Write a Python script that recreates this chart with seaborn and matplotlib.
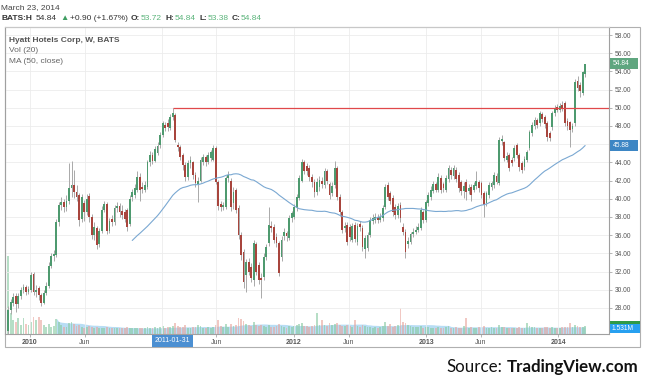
import numpy as np
import pandas as pd
import matplotlib
matplotlib.use("Agg")
import matplotlib.pyplot as plt
import matplotlib.transforms as mtransforms
from matplotlib.patches import Rectangle
import seaborn as sns

# ---------------- data (weekly bars, Hyatt Hotels Corp, BATS) ----------------
last_bar = "2014-03-17"

open_ = [
    25.5, 27.8, 28.6, 29.3, 28.4, 29.3, 30.0, 30.3, 29.8, 30.0,
    31.7, 29.8, 30.2, 29.4, 28.6, 29.7, 30.4, 32.6, 33.7, 33.8,
    37.4, 39.3, 39.7, 39.1, 39.8, 41.2, 41.5, 40.8, 40.4, 37.8,
    39.5, 38.6, 40.3, 38.0, 36.0, 36.8, 35.0, 36.5, 38.8, 39.4,
    36.5, 37.8, 37.4, 39.0, 39.2,
    38.7, 38.6, 38.8, 37.2, 40.2, 40.4, 41.0, 42.4, 41.3, 41.0,
    41.3, 44.0, 44.8, 44.2, 45.0, 45.9, 47.0, 48.1, 48.3, 47.8,
    49.0, 49.2, 45.9, 45.7, 44.8, 43.7, 42.4, 43.9, 44.0, 42.6,
    41.6, 42.0, 44.0, 44.6, 44.0, 44.5, 44.3, 45.6, 41.9, 39.4,
    39.1, 39.1, 42.3, 42.0, 39.5, 41.0, 39.0, 36.0, 34.2,
    31.6, 33.0, 32.5, 31.1, 35.0, 32.7, 31.3, 31.4, 33.6, 35.1,
    37.0, 36.9, 35.8, 35.1, 33.6, 35.9, 36.2, 35.7, 37.9, 38.0,
    39.0, 40.1, 42.0, 44.0, 43.6, 43.4, 42.4, 41.9, 40.7, 41.3,
    42.0, 41.5, 43.0, 41.6, 40.6, 41.5, 43.4, 40.2, 38.5, 36.8,
    37.1, 36.9, 35.5, 37.1, 35.2, 37.2, 36.8,
    34.5, 34.6, 36.0, 37.6, 37.7, 38.0, 37.7, 37.9, 39.1, 41.5,
    40.6, 40.1, 39.1, 38.2, 39.3, 36.9, 36.4, 35.0, 35.3, 36.1,
    36.4, 36.6, 36.8, 38.5, 37.7, 39.5, 40.2, 40.9, 41.6, 41.0,
    42.3, 41.6, 41.0, 42.2, 43.2, 42.5, 43.2, 42.6, 41.8, 40.9,
    41.9, 40.9, 41.3, 41.0, 41.4, 41.8, 41.7, 40.6, 39.5, 40.4,
    41.3, 41.5, 42.5, 41.7, 46.3, 46.2, 44.3, 44.8, 44.3, 44.5,
    45.9, 44.8, 43.9, 43.5, 44.3, 45.6, 47.2, 48.0, 48.7, 48.3,
    49.3, 49.0, 48.3, 47.2, 47.9, 49.4, 50.1, 49.8, 50.3, 50.5,
    48.6, 48.4, 47.7, 48.3, 53.0, 52.5, 51.6, 53.72,
]

close = [
    27.8, 28.7, 29.2, 28.4, 29.3, 30.0, 30.3, 29.8, 30.1, 31.6,
    29.8, 30.0, 29.4, 28.6, 29.7, 30.4, 32.6, 33.7, 33.9, 37.4,
    39.3, 39.7, 39.1, 39.8, 41.2, 41.5, 40.7, 40.2, 37.7, 40.2,
    38.6, 40.0, 38.0, 36.0, 36.9, 34.9, 36.5, 38.8, 39.4, 36.5,
    37.6, 37.4, 39.0, 39.2, 38.5,
    38.2, 37.8, 36.9, 40.0, 40.7, 41.2, 42.4, 41.0, 41.1, 41.5,
    44.0, 44.8, 44.1, 45.5, 45.8, 47.0, 48.3, 47.8, 47.9, 49.0,
    49.4, 46.5, 45.7, 44.6, 43.7, 42.4, 43.9, 44.3, 42.6, 41.7,
    42.0, 44.3, 44.6, 44.0, 44.8, 45.1, 45.6, 41.9, 39.2, 39.1,
    39.3, 42.3, 42.6, 39.1, 40.8, 38.8, 36.0, 33.8, 30.9,
    33.0, 32.0, 31.3, 35.1, 32.0, 31.1, 31.1, 33.6, 34.7, 37.1,
    36.8, 35.5, 35.1, 31.8, 35.5, 36.3, 35.9, 37.9, 38.4, 39.1,
    40.2, 42.3, 44.0, 43.0, 43.1, 42.4, 41.9, 40.7, 41.9, 42.1,
    41.6, 43.0, 42.0, 40.4, 41.4, 43.4, 40.2, 38.5, 36.6, 37.0,
    35.3, 35.8, 37.0, 35.6, 37.0, 36.9, 34.7,
    35.7, 36.0, 37.7, 37.9, 38.0, 37.7, 38.0, 39.0, 41.3, 40.2,
    39.8, 38.5, 38.2, 39.2, 37.9, 36.4, 34.2, 35.4, 36.1, 36.4,
    36.6, 36.9, 38.8, 37.7, 39.6, 40.4, 41.0, 41.6, 41.0, 42.4,
    41.0, 41.2, 42.3, 43.4, 42.6, 43.4, 42.2, 41.2, 40.9, 41.4,
    40.8, 41.2, 40.4, 41.5, 42.0, 41.2, 40.4, 39.3, 40.6, 41.5,
    41.7, 42.6, 41.9, 46.5, 46.6, 44.5, 44.7, 43.4, 43.9, 45.6,
    44.8, 43.5, 43.2, 44.4, 45.1, 47.3, 48.1, 48.7, 48.1, 49.4,
    48.8, 48.2, 46.8, 46.7, 49.4, 50.0, 49.8, 50.2, 50.0, 48.3,
    48.0, 47.6, 48.0, 52.8, 52.2, 51.8, 53.94, 54.84,
]

high = [
    28.2, 29.0, 29.6, 29.7, 29.6, 30.3, 30.6, 30.5, 30.4, 32.0,
    31.9, 30.5, 30.4, 29.7, 30.0, 30.8, 33.0, 34.0, 34.4, 37.8,
    39.6, 40.2, 40.0, 40.4, 43.9, 44.2, 43.2, 41.5, 40.6, 40.5,
    39.9, 40.5, 40.6, 38.3, 37.4, 37.0, 36.8, 39.2, 39.8, 39.7,
    37.9, 38.2, 39.3, 39.6, 39.5,
    39.3, 38.9, 39.0, 40.4, 41.1, 41.6, 43.0, 42.8, 41.8, 42.0,
    44.3, 45.2, 45.1, 45.8, 46.2, 47.3, 48.6, 48.4, 48.8, 49.3,
    50.0, 49.4, 46.2, 45.9, 45.0, 44.0, 44.3, 44.7, 44.2, 42.9,
    42.4, 44.6, 44.9, 44.8, 45.1, 45.4, 45.9, 45.8, 42.1, 39.8,
    39.6, 42.5, 43.0, 42.3, 41.3, 41.2, 39.3, 36.4, 34.5,
    33.4, 33.5, 32.9, 35.5, 35.3, 33.1, 31.8, 34.0, 35.0, 39.1,
    37.6, 37.2, 36.2, 35.4, 35.9, 36.8, 36.5, 38.2, 38.7, 39.4,
    40.5, 42.6, 44.4, 44.3, 43.9, 43.7, 42.7, 42.2, 42.3, 42.5,
    42.4, 43.4, 43.3, 41.9, 41.8, 44.2, 43.6, 40.5, 38.8, 37.5,
    37.4, 37.2, 37.3, 37.4, 37.3, 37.6, 37.1,
    36.0, 36.3, 38.0, 38.3, 38.4, 38.3, 38.4, 39.3, 41.6, 41.8,
    40.9, 40.4, 39.4, 39.5, 39.6, 37.3, 36.7, 35.8, 36.4, 36.8,
    37.0, 37.3, 39.1, 38.8, 39.9, 40.7, 41.4, 42.0, 41.9, 42.8,
    42.6, 41.9, 42.6, 43.7, 43.5, 43.7, 43.5, 42.9, 42.1, 41.8,
    42.2, 41.6, 41.6, 41.9, 43.0, 42.1, 42.0, 40.9, 40.9, 41.8,
    42.0, 42.9, 42.8, 46.8, 47.0, 46.4, 45.1, 45.0, 44.6, 45.9,
    46.1, 45.0, 44.1, 44.7, 45.4, 47.6, 48.4, 49.0, 48.9, 49.6,
    49.5, 49.2, 48.5, 47.5, 49.7, 50.3, 50.4, 50.5, 50.8, 50.7,
    48.9, 48.6, 48.3, 53.2, 53.5, 52.8, 54.0, 54.84,
]

low = [
    25.0, 27.3, 28.2, 27.6, 28.0, 29.0, 29.6, 29.4, 29.5, 29.8,
    29.4, 29.2, 28.9, 28.2, 28.4, 29.4, 30.2, 32.4, 33.2, 33.6,
    37.0, 38.8, 38.5, 38.7, 39.4, 40.2, 40.1, 39.8, 37.0, 37.4,
    37.6, 38.2, 37.5, 35.6, 35.5, 34.5, 34.7, 36.2, 38.5, 36.1,
    36.2, 37.0, 37.1, 38.6, 38.0,
    37.8, 37.4, 36.5, 37.0, 39.8, 40.1, 40.8, 39.8, 40.6, 40.7,
    41.1, 43.6, 43.8, 44.0, 44.8, 45.6, 46.8, 47.4, 47.5, 47.6,
    48.7, 46.2, 45.2, 44.3, 43.2, 42.0, 42.1, 43.4, 42.2, 41.3,
    39.6, 41.8, 43.7, 43.6, 43.8, 44.2, 44.1, 41.6, 38.8, 38.7,
    38.8, 38.9, 41.9, 38.7, 38.9, 38.4, 35.6, 33.3, 30.2,
    29.8, 31.6, 30.8, 30.4, 31.6, 30.6, 29.1, 31.1, 33.3, 34.8,
    36.3, 35.1, 34.7, 31.5, 33.2, 35.5, 35.4, 35.5, 37.5, 37.8,
    38.7, 39.9, 41.8, 42.7, 42.6, 42.0, 41.3, 40.2, 40.4, 40.9,
    41.2, 41.2, 41.6, 40.0, 40.3, 41.2, 39.9, 38.1, 36.2, 36.4,
    34.9, 35.4, 35.2, 35.2, 34.9, 36.5, 34.3,
    33.5, 34.3, 35.8, 37.2, 37.3, 37.3, 37.4, 37.6, 38.9, 39.9,
    39.4, 38.1, 37.8, 37.9, 37.5, 36.0, 33.5, 34.6, 35.0, 35.8,
    36.1, 36.3, 36.6, 37.3, 37.5, 39.2, 39.9, 40.6, 40.7, 40.7,
    40.6, 40.8, 40.7, 41.9, 42.2, 42.2, 41.8, 40.8, 40.4, 40.1,
    39.9, 40.5, 39.8, 40.7, 41.1, 40.8, 40.1, 38.0, 39.2, 40.1,
    41.0, 41.2, 41.6, 41.5, 45.9, 44.2, 44.0, 43.0, 43.6, 44.2,
    44.5, 43.1, 42.8, 43.2, 44.0, 45.4, 46.9, 47.7, 47.8, 48.0,
    48.4, 47.8, 46.4, 46.3, 47.6, 49.1, 49.5, 49.5, 49.7, 48.0,
    47.6, 45.7, 47.3, 48.0, 51.9, 51.2, 51.4, 53.38,
]

# weekly volume, millions
volume = [
    17.0, 4.5, 3.0, 2.5, 3.5, 2.0, 3.5, 2.2, 2.0, 2.5, 3.8, 3.0, 3.6, 3.0, 2.0, 1.5, 2.2, 1.5, 1.8, 3.2,
    2.6, 2.0, 1.6, 1.5, 2.4, 2.6, 2.2, 1.8, 2.0, 1.6, 1.4, 1.5, 1.7, 1.6, 1.4, 1.5, 1.3, 1.4, 1.3, 1.5,
    1.3, 1.2, 1.4, 1.3, 1.2, 1.4, 1.3, 1.5, 1.4, 1.2, 1.3, 1.2, 1.4, 1.3, 1.2, 1.6, 1.4, 1.3, 1.5, 1.4,
    1.6, 1.7, 1.4, 1.5, 1.6, 1.8, 2.4, 1.7, 1.6, 1.5, 1.9, 1.4, 1.3, 1.6, 1.5, 1.9, 1.7, 1.4, 1.3, 1.5,
    1.4, 1.6, 2.0, 3.0, 1.8, 1.5, 2.2, 1.6, 2.1, 1.7, 2.0, 3.5, 3.3, 2.8, 2.2, 1.9, 1.8, 2.7, 2.0, 1.8,
    2.0, 1.8, 1.6, 2.0, 1.5, 1.6, 1.8, 2.2, 1.7, 1.5, 1.4, 1.8, 1.6, 1.7, 1.9, 2.2, 2.4, 1.8, 1.7, 1.6,
    1.8, 2.0, 4.5, 2.0, 3.0, 1.9, 1.8, 2.4, 1.9, 2.2, 2.4, 1.9, 1.8, 1.7, 2.0, 1.8, 1.6, 3.0, 1.7, 1.6,
    2.0, 1.8, 1.6, 1.5, 1.4, 1.5, 1.4, 1.6, 1.7, 2.7, 1.8, 2.2, 1.6, 1.8, 2.0, 5.7, 2.6, 2.4, 2.0, 1.8,
    1.6, 1.5, 1.6, 1.7, 1.4, 1.5, 1.6, 1.4, 1.3, 1.4, 1.5, 1.3, 1.4, 1.6, 1.8, 1.4, 1.3, 1.5, 1.4, 1.4,
    1.8, 3.5, 1.4, 1.5, 1.3, 1.4, 1.6, 1.5, 1.8, 1.4, 1.3, 1.5, 1.4, 1.3, 2.0, 1.6, 1.5, 1.4, 1.3, 1.4,
    1.3, 1.4, 1.5, 1.3, 1.4, 2.4, 1.8, 1.6, 1.5, 1.4, 1.3, 1.4, 1.5, 1.6, 1.4, 1.5, 1.4, 1.3, 1.4, 1.5,
    1.6, 1.6, 2.4, 1.5, 1.9, 1.7, 1.6, 1.5, 1.7,
]

resistance_level = 50.0
resistance_start = "2011-01-31"
y_ticks = [28, 30, 32, 34, 36, 38, 40, 42, 44, 46, 48, 50, 52, 54, 56, 58]
hidden_y_ticks = [46]          # covered by the MA value label in the reference
tick_dates = ["2010-01-01", "2010-06-01", "2011-01-01", "2011-06-01", "2012-01-01",
              "2012-06-01", "2013-01-01", "2013-06-01", "2014-01-01"]
tick_labels = ["2010", "Jun", "", "Jun", "2012", "Jun", "2013", "Jun", "2014"]
highlight_label = "2011-01-31"
last_price_label = "54.84"
ma_label = "45.88"
vol_ma_label = "1.531M"

# ---------------- figure ----------------
sns.set_theme(style="white")
plt.rcParams["font.family"] = ["Liberation Sans", "DejaVu Sans"]

dates = pd.date_range(end=last_bar, periods=len(close), freq="W-MON")
df = pd.DataFrame({"date": dates, "open": open_, "high": high, "low": low,
                   "close": close, "volume": volume})
df["ma50"] = df["close"].rolling(50).mean()
df["vol_ma20"] = df["volume"].rolling(20).mean()
up = (df["close"] >= df["open"]).values

W, H = 645, 384
fig = plt.figure(figsize=(W / 100, H / 100), dpi=100)
fig.patch.set_facecolor("white")


def fx(px):
    return px / W


def fy(py):
    return 1 - py / H


ax = fig.add_axes([fx(5), fy(334), (609 - 5) / W, (334 - 27) / H])
axv = ax.twinx()
ax.set_zorder(axv.get_zorder() + 1)
ax.patch.set_visible(False)

# volume pane (overlay)
axv.fill_between(df["date"], 0, df["vol_ma20"], color="#a6d5f2", alpha=0.8, lw=0)
axv.bar(df["date"], df["volume"], width=5,
        color=np.where(up, "#86c9a0", "#e8a49c"), alpha=0.6, lw=0)
axv.set_ylim(0, 66.7)
axv.set_yticks([])
axv.grid(False)
for s in axv.spines.values():
    s.set_visible(False)

# candles
ax.vlines(df["date"], df["low"], df["high"], color="#a9a9a9", lw=0.7, zorder=3)
body_lo = np.minimum(df["open"], df["close"])
body_h = np.maximum(np.abs(df["close"] - df["open"]), 0.12)
ax.bar(df["date"], body_h, bottom=body_lo, width=5,
       color=np.where(up, "#4e9a6f", "#a8453d"), lw=0, zorder=4)

# MA 50
sns.lineplot(x=df["date"], y=df["ma50"], ax=ax, color="#7aa8d2", lw=0.8, zorder=5)
ax.set_xlabel("")
ax.set_ylabel("")

x_left, x_right = pd.Timestamp("2009-10-24"), pd.Timestamp("2014-05-22")
ax.hlines(resistance_level, pd.Timestamp(resistance_start), x_right,
          color="#e0484a", lw=0.9, zorder=6)

ax.set_xlim(x_left, x_right)
ax.set_ylim(25.14, 58.88)

# y axis on the right
ax.yaxis.tick_right()
ax.set_yticks(y_ticks)
ax.set_yticklabels(["" if v in hidden_y_ticks else f"{v:.2f}" for v in y_ticks])
ax.tick_params(axis="y", which="both", right=True, left=False, length=2.5, width=0.5,
               color="#999999", pad=1.5, labelsize=4.8, labelcolor="#555555")

# x axis
ax.set_xticks(pd.to_datetime(tick_dates))
ax.set_xticklabels(tick_labels)
ax.tick_params(axis="x", which="both", bottom=True, length=2, width=0.5, color="#999999",
               pad=1.5, labelsize=5.0, labelcolor="#555555")
for lbl in ax.get_xticklabels():
    if lbl.get_text().isdigit():
        lbl.set_fontweight("bold")

ax.grid(True, color="#ececec", lw=0.6)
ax.set_axisbelow(True)
for name, s in ax.spines.items():
    s.set_color("#a0a0a0")
    s.set_linewidth(0.8)
ax.spines["top"].set_color("#c8c8c8")

# outer frame incl. axis strips
fig.add_artist(Rectangle((fx(5), fy(347)), (640 - 5) / W, (347 - 27) / H,
                         transform=fig.transFigure, fill=False, ec="#b0b0b0", lw=0.8))

# highlighted date on x axis
blend_x = mtransforms.blended_transform_factory(ax.transData, ax.transAxes)
hd = pd.Timestamp(highlight_label)
ax.add_patch(Rectangle((hd - pd.Timedelta(days=57), -0.042), pd.Timedelta(days=114), 0.039,
                       transform=blend_x, fc="#4b8fd2", ec="none", clip_on=False, zorder=10))
ax.text(hd, -0.0225, highlight_label, transform=blend_x, ha="center", va="center",
        fontsize=5.0, color="white", clip_on=False, zorder=11)

# price labels on the right strip
blend_y = mtransforms.blended_transform_factory(ax.transAxes, ax.transData)


def price_box(v, text, fc):
    ax.add_patch(Rectangle((1.0015, v - 0.6), 0.046, 1.2, transform=blend_y, fc=fc,
                           ec="none", clip_on=False, zorder=10))
    ax.text(1.006, v, text, transform=blend_y, fontsize=4.8, color="white",
            ha="left", va="center", zorder=11, clip_on=False)


price_box(df["close"].iloc[-1], last_price_label, "#5fa67f")
price_box(df["ma50"].iloc[-1], ma_label, "#3d86c4")

# volume labels
fig.add_artist(Rectangle((fx(610), fy(325)), 30 / W, 4 / H, transform=fig.transFigure,
                         fc="#2f9a46", ec="none"))
fig.add_artist(Rectangle((fx(610), fy(333)), 30 / W, 9 / H, transform=fig.transFigure,
                         fc="#27a0f0", ec="none"))
fig.text(fx(612), fy(328.8), vol_ma_label, fontsize=4.8, color="white", ha="left", va="center")

# header texts laid out one after another
renderer = fig.canvas.get_renderer()
fig.text(fx(1), fy(9.5), "March 23, 2014", fontsize=6.0, color="#444444", va="baseline")
header = [
    ("BATS:H", "#333333", "bold", 4),
    ("54.84", "#333333", "normal", 3),
    ("\u25B2", "#3f9d62", "normal", 1.5),
    ("+0.90 (+1.67%)", "#333333", "normal", 3.5),
    ("O:", "#333333", "bold", 0.5),
    ("53.72", "#5bb47b", "normal", 3.5),
    ("H:", "#333333", "bold", 0.5),
    ("54.84", "#5bb47b", "normal", 3.5),
    ("L:", "#333333", "bold", 0.5),
    ("53.38", "#5bb47b", "normal", 3.5),
    ("C:", "#333333", "bold", 0.5),
    ("54.84", "#5bb47b", "normal", 0),
]
xp = 1.0
for s, c, w, gap in header:
    t = fig.text(fx(xp), fy(19.5), s, fontsize=6.0, color=c, fontweight=w, va="baseline")
    xp += t.get_window_extent(renderer).width + gap

fig.text(fx(9), fy(42), "Hyatt Hotels Corp, W, BATS", fontsize=6.0, color="#555555",
         fontweight="bold", va="baseline")
fig.text(fx(9), fy(52.5), "Vol (20)", fontsize=6.0, color="#666666", va="baseline")
fig.text(fx(9), fy(63), "MA (50, close)", fontsize=6.0, color="#666666", va="baseline")

# source
fig.text(fx(446), fy(372), "Source:", fontsize=12.2, family=["Lato", "DejaVu Sans"],
         color="#111111", va="baseline")
fig.text(fx(507), fy(372), "TradingView.com", fontsize=12.2, family=["Lato", "DejaVu Sans"],
         fontweight="bold", color="#111111", va="baseline")

fig.savefig("out.png", dpi=100, facecolor="white")
